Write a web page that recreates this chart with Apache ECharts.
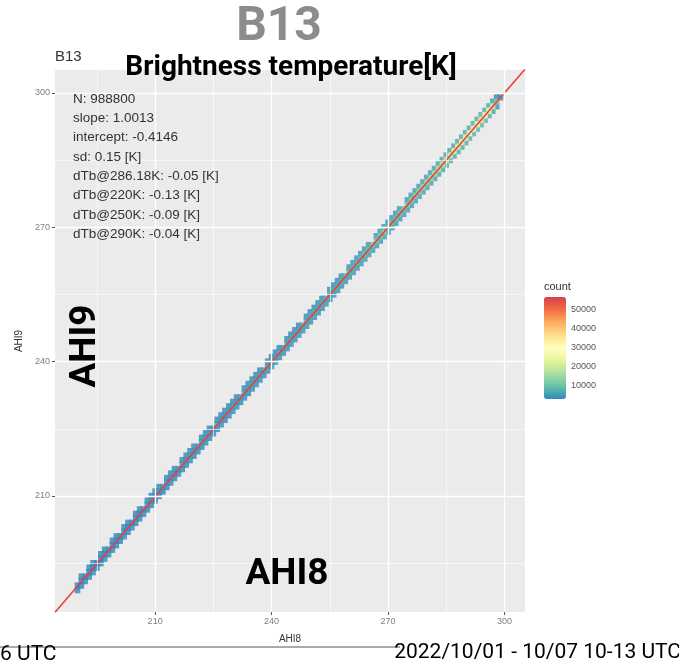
<!DOCTYPE html>
<html>
<head>
<meta charset="utf-8">
<script src="https://cdn.jsdelivr.net/npm/echarts@6/dist/echarts.min.js"></script>
<style>
html, body { margin: 0; padding: 0; background: #fff; }
#main { width: 679px; height: 671px; }
</style>
</head>
<body>
<div id="main"></div>
<script>
// AHI8 bin (K), 1 K wide
var tb8Bins = [
  190,191,192,193,194,195,196,197,198,199,
  200,201,202,203,204,205,206,207,208,209,
  210,211,212,213,214,215,216,217,218,219,
  220,221,222,223,224,225,226,227,228,229,
  230,231,232,233,234,235,236,237,238,239,
  240,241,242,243,244,245,246,247,248,249,
  250,251,252,253,254,255,256,257,258,259,
  260,261,262,263,264,265,266,267,268,269,
  270,271,272,273,274,275,276,277,278,279,
  280,281,282,283,284,285,286,287,288,289,
  290,291,292,293,294,295,296,297,298,299
];
// AHI9 bin offset from the AHI8 bin
var dTbOffsets = [-1, 0, 1];
// counts, AHI9 bin = AHI8 bin - 1
var countBelow = [
  600,900,1100,1300,1200,1500,1400,1600,1700,1600,
  1800,1900,1700,2000,2100,1900,2200,2300,2100,2400,
  2300,2500,2400,2600,2500,2700,2600,2800,2700,2900,
  2800,3000,2900,3100,3000,3200,3100,3300,3200,3400,
  3300,3500,3400,3600,3500,3700,3600,3800,3700,3900,
  3800,4000,3900,4100,4000,4200,4100,4300,4200,4400,
  3900,4100,4000,4200,4300,4100,4400,4500,4300,4600,
  4500,4700,4600,4800,4900,4700,5000,5100,5200,5300,
  4800,5000,4900,5200,5100,5400,5300,5500,5700,5600,
  5800,6000,6200,6100,6400,6700,6500,6900,7200,7000,
  7400,7800,8100,8400,8800,8500,7600,6000,4000,0
];
// counts, AHI9 bin = AHI8 bin
var countOn = [
  900,1400,1600,1900,2000,2300,2200,2500,2600,2800,
  2900,3100,3000,3300,3400,3500,3700,3600,3900,4000,
  4100,4300,4200,4400,4500,4400,4600,4700,4600,4800,
  4900,4800,5000,5100,5000,5200,5300,5200,5400,5500,
  5500,5600,5400,5700,5600,5800,5700,5900,6000,5800,
  6100,6000,6200,6300,6100,6400,6500,6300,6600,6800,
  6900,7100,7000,7300,7200,7500,7600,7400,7800,8000,
  8200,8500,8800,9200,9600,10100,10700,11300,12000,12800,
  9000,9500,10000,10600,11200,11800,12500,13200,14000,14800,
  15600,16500,17400,18400,19500,20600,21800,23000,24300,25700,
  27200,28800,30500,32600,34800,31000,27000,21000,12000,4000
];
// counts, AHI9 bin = AHI8 bin + 1 (0 = empty)
var countAbove = [
  0,400,0,500,600,0,700,800,0,900,
  1000,0,1100,1200,0,1300,1400,0,1500,1600,
  1500,1700,0,1800,1900,1800,0,2000,2100,2000,
  2200,0,2300,2200,2400,0,2500,2400,2600,2500,
  2700,2600,0,2800,2900,2800,3000,2900,0,3100,
  3000,3200,3100,0,3300,3200,3400,3300,0,3500,
  3400,3600,3500,3700,0,3800,3700,3900,4000,0,
  4100,4300,4200,4500,4400,4700,0,4900,5100,5000,
  4600,4800,4700,5000,0,5200,5100,5300,5500,5400,
  5600,5500,5800,6000,5900,6200,6400,6300,6600,6800,
  7000,6900,7200,7500,7800,7600,7000,5000,2000,0
];

var fitSlope = 1.0013;
var fitIntercept = -0.4146;
var statLines = [
  'N: 988800',
  'slope: 1.0013',
  'intercept: -0.4146',
  'sd: 0.15 [K]',
  'dTb@286.18K: -0.05 [K]',
  'dTb@220K: -0.13 [K]',
  'dTb@250K: -0.09 [K]',
  'dTb@290K: -0.04 [K]'
];
var majorTicks = [210, 240, 270, 300];
var minorTicks = [195, 225, 255, 285];
var countTicks = [10000, 20000, 30000, 40000, 50000];

var xMin = 184.2, xMax = 305.3;
var yMin = 184.1, yMax = 305.1;

var countRows = [countBelow, countOn, countAbove];
var cells = [];
tb8Bins.forEach(function (b, i) {
  dTbOffsets.forEach(function (d, k) {
    var c = countRows[k][i];
    if (c > 0) cells.push([b, b + d, c]);
  });
});
// low counts first so the busy bins sit on top
cells.sort(function (a, b) { return a[2] - b[2]; });

var fitLine = [
  [xMin, fitSlope * xMin + fitIntercept],
  [xMax, fitSlope * xMax + fitIntercept]
];

var gridLines = [];
minorTicks.forEach(function (v) {
  gridLines.push({ xAxis: v, lineStyle: { width: 0.6 } });
  gridLines.push({ yAxis: v, lineStyle: { width: 0.6 } });
});
majorTicks.forEach(function (v) {
  gridLines.push({ xAxis: v, lineStyle: { width: 1.3 } });
  gridLines.push({ yAxis: v, lineStyle: { width: 1.3 } });
});

var axisText = { color: '#7f7f7f', fontSize: 9, fontFamily: 'Liberation Sans' };

var option = {
  animation: false,
  grid: [
    { left: 55, top: 70, width: 470, height: 542, show: true, backgroundColor: '#EBEBEB', borderWidth: 0 },
    { left: 544, top: 297, width: 22, height: 102, show: false }
  ],
  xAxis: [
    {
      gridIndex: 0, type: 'value', min: xMin, max: xMax,
      name: 'AHI8', nameLocation: 'middle', nameGap: 22,
      nameTextStyle: { color: '#333', fontSize: 10, fontFamily: 'Liberation Sans' },
      axisLine: { show: false },
      axisTick: { show: true, length: 3, lineStyle: { color: '#555' }, customValues: majorTicks },
      axisLabel: Object.assign({ margin: 5, customValues: majorTicks }, axisText),
      splitLine: { show: false }
    },
    { gridIndex: 1, type: 'value', show: false, min: 0, max: 1 }
  ],
  yAxis: [
    {
      gridIndex: 0, type: 'value', min: yMin, max: yMax,
      name: 'AHI9', nameLocation: 'middle', nameGap: 30, nameRotate: 90,
      nameTextStyle: { color: '#333', fontSize: 10, fontFamily: 'Liberation Sans' },
      axisLine: { show: false },
      axisTick: { show: true, length: 3, lineStyle: { color: '#555' }, customValues: majorTicks },
      axisLabel: Object.assign({ margin: 5, customValues: majorTicks }, axisText),
      splitLine: { show: false }
    },
    {
      gridIndex: 1, type: 'value', min: 3200, max: 56300, position: 'right',
      axisLine: { show: false },
      axisTick: { show: true, inside: true, length: 4, lineStyle: { color: '#fff', width: 1 }, customValues: countTicks },
      axisLabel: {
        customValues: countTicks, margin: 5, color: '#555', fontSize: 9, fontFamily: 'Liberation Sans',
        formatter: function (v) { return String(v); }
      },
      splitLine: { show: false },
      z: 10
    }
  ],
  visualMap: {
    type: 'continuous', seriesIndex: 1, dimension: 2,
    min: 3200, max: 56300, calculable: false,
    left: 544, top: 297, itemWidth: 22, itemHeight: 102, padding: 0,
    text: null, showLabel: false,
    inRange: { color: ['#3288BD', '#66C2A5', '#ABDDA4', '#E6F598', '#FFFFBF', '#FEE08B', '#FDAE61', '#F46D43', '#D53E4F'] }
  },
  series: [
    {
      // panel grid lines
      type: 'line', xAxisIndex: 0, yAxisIndex: 0, data: [], silent: true, z: 1,
      markLine: { silent: true, symbol: 'none', label: { show: false }, lineStyle: { color: '#fff', type: 'solid' }, data: gridLines }
    },
    {
      name: 'count', type: 'scatter', xAxisIndex: 0, yAxisIndex: 0,
      symbol: 'rect', symbolSize: [5.6, 6.4], data: cells, z: 2
    },
    {
      type: 'line', xAxisIndex: 0, yAxisIndex: 0, data: fitLine, showSymbol: false, z: 3,
      lineStyle: { color: '#EE3B3B', width: 1.5 }
    }
  ],
  graphic: [
    { type: 'text', x: 279, y: 28, style: { text: 'B13', fill: '#8c8c8c', fontSize: 48, fontWeight: 'bold', fontFamily: 'Roboto', align: 'center', verticalAlign: 'middle' } },
    { type: 'text', x: 55, y: 57, style: { text: 'B13', fill: '#333', fontSize: 15, fontFamily: 'Liberation Sans', align: 'left', verticalAlign: 'middle' } },
    { type: 'text', x: 291, y: 68, z: 100, style: { text: 'Brightness temperature[K]', fill: '#000', fontSize: 28, fontWeight: 'bold', fontFamily: 'Roboto', align: 'center', verticalAlign: 'middle' } },
    { type: 'text', x: 73, y: 89.4, z: 100, style: { text: statLines.join('\n'), fill: '#333', fontSize: 13.5, lineHeight: 19.3, fontFamily: 'Liberation Sans', align: 'left', verticalAlign: 'top' } },
    { type: 'text', x: 86, y: 346, rotation: Math.PI / 2, z: 100, style: { text: 'AHI9', fill: '#000', fontSize: 37, fontWeight: 'bold', fontFamily: 'Roboto', align: 'center', verticalAlign: 'middle' } },
    { type: 'text', x: 287, y: 575, z: 100, style: { text: 'AHI8', fill: '#000', fontSize: 37, fontWeight: 'bold', fontFamily: 'Roboto', align: 'center', verticalAlign: 'middle' } },
    { type: 'text', x: 544, y: 287, style: { text: 'count', fill: '#333', fontSize: 11, fontFamily: 'Liberation Sans', align: 'left', verticalAlign: 'middle' } },
    { type: 'line', shape: { x1: 0, y1: 647, x2: 400, y2: 647 }, style: { stroke: '#555', lineWidth: 1 } },
    { type: 'text', x: 0, y: 655, style: { text: '6 UTC', fill: '#000', fontSize: 21, fontFamily: 'Roboto', align: 'left', verticalAlign: 'middle' } },
    { type: 'text', x: 681, y: 653, style: { text: '2022/10/01 - 10/07 10-13 UTC', fill: '#000', fontSize: 21, fontFamily: 'Roboto', align: 'right', verticalAlign: 'middle' } }
  ]
};

var myChart = echarts.init(document.getElementById('main'));
myChart.setOption(option);
</script>
</body>
</html>
